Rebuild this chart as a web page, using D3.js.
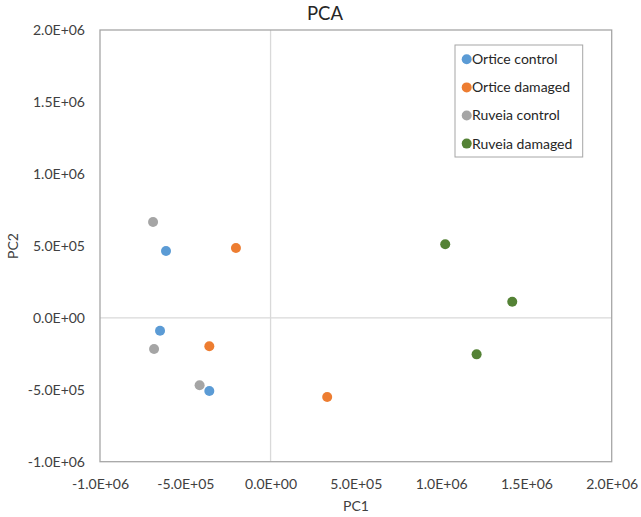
<!DOCTYPE html>
<html>
<head>
<meta charset="utf-8">
<script src="https://cdn.jsdelivr.net/npm/d3@7"></script>
<style>
  body { margin: 0; background: #fff; }
  svg { display: block; font-family: Lato, "Open Sans", sans-serif; }
</style>
</head>
<body>
<svg id="chart" width="641" height="517"></svg>
<script>
const seriesNames = ["Ortice control", "Ortice damaged", "Ruveia control", "Ruveia damaged"];
const seriesColors = ["#5B9BD5", "#ED7D31", "#A5A5A5", "#548235"];
const orticeControl = [[-613000, 464000], [-648000, -90000], [-359000, -509000]];
const orticeDamaged = [[-203000, 485000], [-359000, -198000], [332000, -551000]];
const ruveiaControl = [[-689000, 666000], [-683000, -217000], [-416000, -469000]];
const ruveiaDamaged = [[1024000, 511000], [1417000, 112000], [1208000, -254000]];
const xTicks = [-1000000, -500000, 0, 500000, 1000000, 1500000, 2000000];
const yTicks = [-1000000, -500000, 0, 500000, 1000000, 1500000, 2000000];
const seriesData = [orticeControl, orticeDamaged, ruveiaControl, ruveiaDamaged];

const svg = d3.select("#chart");
const pL = 100, pR = 611.7, pT = 30, pB = 461.7;
const x = d3.scaleLinear().domain([-1000000, 2000000]).range([pL, pR]);
const y = d3.scaleLinear().domain([-1000000, 2000000]).range([pB, pT]);

function fmt(v) {
  if (v === 0) return "0.0E+00";
  const s = v.toExponential(1).toUpperCase();
  const m = s.match(/^(-?[\d.]+)E([+-])(\d+)$/);
  return m[1] + "E" + m[2] + m[3].padStart(2, "0");
}

// zero lines
svg.append("line").attr("x1", x(0)).attr("x2", x(0)).attr("y1", pT).attr("y2", pB)
  .attr("stroke", "#d9d9d9").attr("stroke-width", 1.3);
svg.append("line").attr("x1", pL).attr("x2", pR).attr("y1", y(0)).attr("y2", y(0))
  .attr("stroke", "#d9d9d9").attr("stroke-width", 1.3);

// plot border
svg.append("rect").attr("x", pL).attr("y", pT).attr("width", pR - pL).attr("height", pB - pT)
  .attr("fill", "none").attr("stroke", "#a6a6a6").attr("stroke-width", 1.3);

// axes (labels only)
const xAxis = d3.axisBottom(x).tickValues(xTicks).tickFormat(fmt).tickSize(0).tickPadding(17);
const gx = svg.append("g").attr("transform", `translate(0,${pB})`).call(xAxis);
gx.select(".domain").remove();
gx.selectAll("text").attr("fill", "#404040").attr("font-size", 14).attr("font-family", "Lato, sans-serif");

const yAxis = d3.axisLeft(y).tickValues(yTicks).tickFormat(fmt).tickSize(0).tickPadding(15);
const gy = svg.append("g").attr("transform", `translate(${pL},0)`).call(yAxis);
gy.select(".domain").remove();
gy.selectAll("text").attr("fill", "#404040").attr("font-size", 14).attr("font-family", "Lato, sans-serif");

// points
seriesData.forEach((pts, i) => {
  svg.append("g").selectAll("circle").data(pts).join("circle")
    .attr("cx", d => x(d[0])).attr("cy", d => y(d[1])).attr("r", 5)
    .attr("fill", seriesColors[i]);
});

// title
svg.append("text").attr("x", 325).attr("y", 20).attr("text-anchor", "middle")
  .attr("font-size", 18.5).attr("fill", "#262626").text("PCA");

// axis titles
svg.append("text").attr("x", 356).attr("y", 511).attr("text-anchor", "middle")
  .attr("font-size", 14).attr("fill", "#404040").text("PC1");
svg.append("text").attr("transform", "translate(18,246) rotate(-90)").attr("text-anchor", "middle")
  .attr("font-size", 14).attr("fill", "#404040").text("PC2");

// legend
const lg = svg.append("g");
lg.append("rect").attr("x", 455).attr("y", 45).attr("width", 127.7).attr("height", 112)
  .attr("fill", "#fff").attr("stroke", "#a6a6a6").attr("stroke-width", 1);
seriesNames.forEach((name, i) => {
  const yy = 59.3 + i * 28.1;
  lg.append("circle").attr("cx", 466.7).attr("cy", yy).attr("r", 5).attr("fill", seriesColors[i]);
  lg.append("text").attr("x", 472).attr("y", yy).attr("dy", "0.35em")
    .attr("font-size", 14).attr("fill", "#262626").text(name);
});
</script>
</body>
</html>
